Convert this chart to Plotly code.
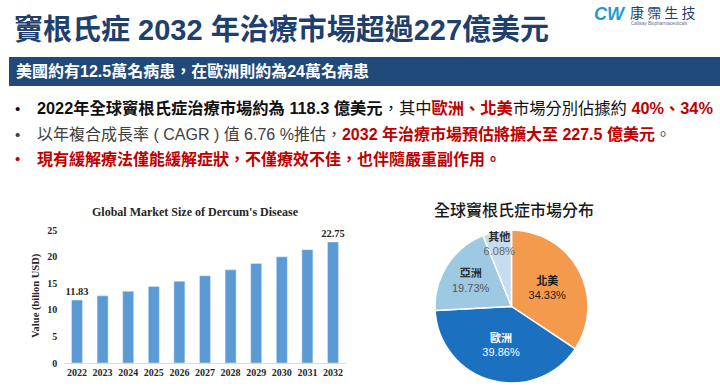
import plotly.graph_objects as go

W, H = 720, 389

# ---------------- data ----------------
years = ["2022", "2023", "2024", "2025", "2026", "2027", "2028", "2029", "2030", "2031", "2032"]
market_values = [11.83, 12.63, 13.48, 14.39, 15.37, 16.41, 17.52, 18.70, 19.96, 21.31, 22.75]
y_ticks = [0, 5, 10, 15, 20, 25]

regions = ["北美", "歐洲", "亞洲", "其他"]
region_shares = [34.33, 39.86, 19.73, 6.08]

slide_title = "竇根氏症 2032 年治療市場超過227億美元"
banner_text = "美國約有12.5萬名病患，在歐洲則約為24萬名病患"
bar_title = "Global Market Size of Dercum's Disease"
bar_ytitle = "Value (bilion USD)"
pie_title = "全球竇根氏症市場分布"

# ---------------- styles ----------------
NAVY = "#1f3f6e"
BANNER = "#21497a"
RED = "#c00000"
GRAY = "#404040"
CJK = "Liberation Sans, Noto Sans CJK TC"
SERIF = "Liberation Serif, Times New Roman, serif"
region_colors = ["#f39a4d", "#1c70c0", "#9dcae2", "#c8dcf0"]
region_label_colors = ["#1a1a1a", "#ffffff", "#2b2b2b", "#2b2b2b"]
region_pct_colors = ["#1a1a1a", "#ffffff", "#555555", "#666666"]


def px(x):
    return x / W


def py(y):
    return 1 - y / H


bar_text = [f"{v:.2f}" if i in (0, len(market_values) - 1) else "" for i, v in enumerate(market_values)]

fig = go.Figure()

fig.add_trace(go.Bar(
    x=years, y=market_values,
    marker_color="#5b9bd5",
    width=0.43,
    text=bar_text, textposition="outside",
    textfont=dict(family=SERIF, size=10.5, color="#262626", weight="bold"),
    cliponaxis=False,
    showlegend=False, hoverinfo="x+y",
    xaxis="x", yaxis="y",
))

fig.add_trace(go.Pie(
    labels=regions, values=region_shares,
    customdata=region_pct_colors,
    sort=False, direction="clockwise", rotation=0,
    marker=dict(colors=region_colors, line=dict(color="white", width=1.5)),
    domain=dict(x=[px(434), px(589)], y=[1 - 383 / H, 1 - 230 / H]),
    texttemplate="<b>%{label}</b><br><span style='color:%{customdata}'>%{value:.2f}%</span>",
    textposition="inside", insidetextorientation="horizontal",
    textfont=dict(family=CJK, size=11, color=region_label_colors),
    showlegend=False,
))

annotations = []


def text_ann(x, y, text, size, color, family=CJK, xanchor="left", weight="normal", angle=0):
    annotations.append(dict(
        x=px(x), y=py(y), xref="paper", yref="paper", text=text,
        showarrow=False, xanchor=xanchor, yanchor="middle", textangle=angle,
        font=dict(family=family, size=size, color=color, weight=weight),
    ))


# slide title
text_ann(12, 30, f"<b>{slide_title}</b>", 29, NAVY)
# banner text
text_ann(14, 71, f"<b>{banner_text}</b>", 16, "white")

# bullets
def red(t, bold=True):
    inner = f"<b>{t}</b>" if bold else t
    return f"<span style='color:{RED}'>{inner}</span>"

line1 = ("<b>2022年全球竇根氏症治療市場約為 118.3 億美元</b>，其中"
         + red("歐洲、北美") + "市場分別佔據約 " + red("40%、34%"))
line2 = ("<span style='color:%s'>以年複合成長率 ( CAGR ) 值 6.76 %%推估，</span>" % GRAY
         + red("2032 年治療市場預估將擴大至 227.5 億美元")
         + "<span style='color:%s'>。</span>" % GRAY)
line3 = red("現有緩解療法僅能緩解症狀，不僅療效不佳，也伴隨嚴重副作用。")

for yy, txt, bcol, sz in [(108, line1, "#111111", 16.3), (134, line2, GRAY, 16), (159, line3, RED, 16)]:
    text_ann(17, yy, "•", 15, bcol, xanchor="center")
    text_ann(35, yy, txt, sz, "#111111")

# logo
text_ann(592, 14, "<b><i>CW</i></b>", 18, "#1e9bd7", family="Liberation Sans")
text_ann(628, 12, "康 霈 生 技", 14, NAVY, family="Noto Sans CJK TC")
text_ann(629, 24, "Caliway Biopharmaceuticals", 4.5, "#5a6f90", family="Liberation Sans")

# bar chart title & axis title
text_ann(196, 212, f"<b>{bar_title}</b>", 12, "#262626", family=SERIF, xanchor="center")
text_ann(36, 296, f"<b>{bar_ytitle}</b>", 10.5, "#262626", family=SERIF, xanchor="center", angle=-90)

# pie title
text_ann(514, 209, pie_title, 16, "#1a1a1a", family="Noto Sans CJK TC", xanchor="center", weight=500)

fig.update_layout(
    width=W, height=H,
    margin=dict(l=0, r=0, t=0, b=0, autoexpand=False),
    paper_bgcolor="white", plot_bgcolor="white",
    xaxis=dict(
        domain=[px(64.2), px(345.8)], type="category", automargin=False,
        showline=True, linecolor="#d9d9d9", linewidth=1,
        showgrid=False, ticks="",
        tickfont=dict(family=SERIF, size=10, color="#262626", weight="bold"),
    ),
    yaxis=dict(
        domain=[1 - 363 / H, 1 - 230 / H], range=[0, 25], automargin=False,
        tickvals=y_ticks, showgrid=False, zeroline=False, showline=False,
        ticks="", ticklabelstandoff=6,
        tickfont=dict(family=SERIF, size=10, color="#262626", weight="bold"),
    ),
    uniformtext=dict(minsize=10, mode="show"),
    shapes=[dict(type="rect", xref="paper", yref="paper",
                 x0=px(9), x1=1, y0=py(86), y1=py(57),
                 fillcolor=BANNER, line=dict(width=0), layer="below")],
    annotations=annotations,
)

# remove the browser's default 8px page margin so the figure sits at (0, 0)
fig.write_html(
    "out.html",
    config={"displayModeBar": False},
    post_script="document.body.style.margin='0';document.body.style.overflow='hidden';",
)
